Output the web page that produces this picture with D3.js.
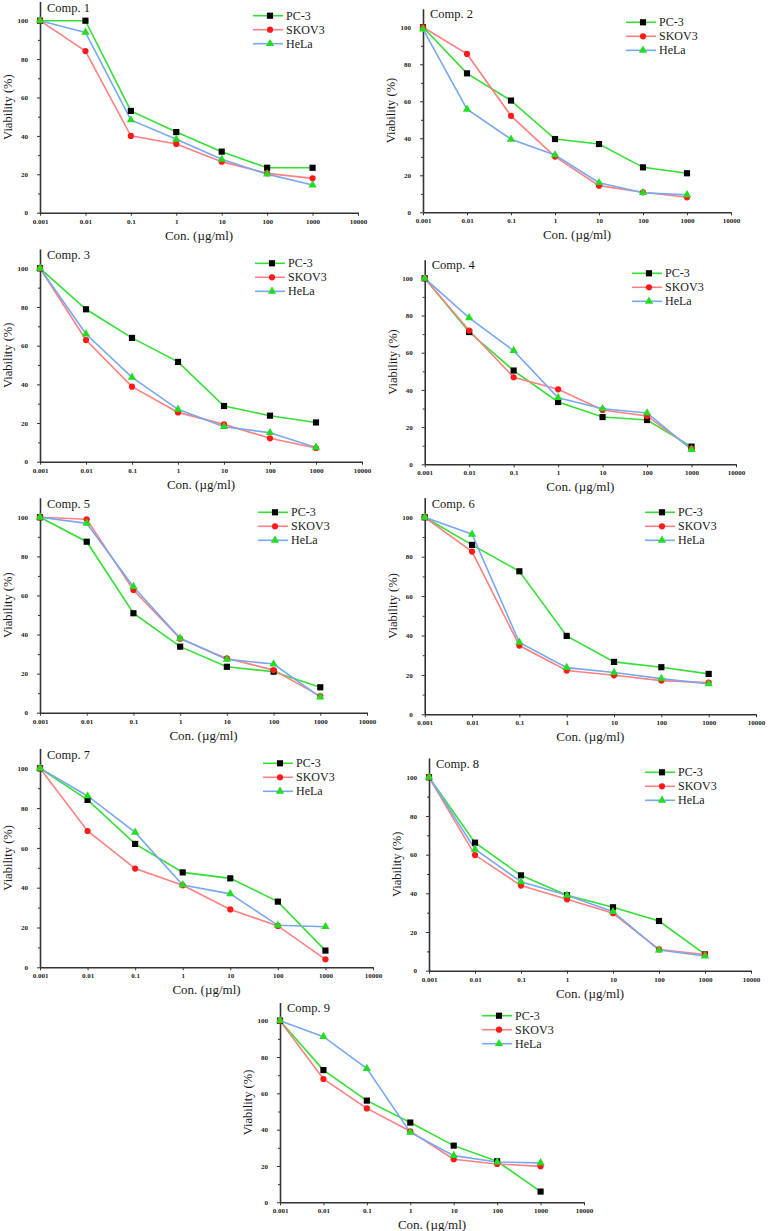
<!DOCTYPE html>
<html>
<head>
<meta charset="utf-8">
<script src="https://cdn.jsdelivr.net/npm/d3@7/dist/d3.min.js"></script>
<style>
html,body{margin:0;padding:0;background:#fff;}
svg{display:block;}
</style>
</head>
<body>
<svg id="chart" width="768" height="1231"></svg>
<script>
// ---------- data ----------
const concentrations = [0.001, 0.01, 0.1, 1, 10, 100, 1000];
const xTickValues = [0.001, 0.01, 0.1, 1, 10, 100, 1000, 10000];
const xTickLabels = ["0.001", "0.01", "0.1", "1", "10", "100", "1000", "10000"];
const yTickValues = [0, 20, 40, 60, 80, 100];
const yMinorTicks = [10, 30, 50, 70, 90];
const seriesNames = ["PC-3", "SKOV3", "HeLa"];
const compoundNames = ["Comp. 1","Comp. 2","Comp. 3","Comp. 4","Comp. 5","Comp. 6","Comp. 7","Comp. 8","Comp. 9"];

const pc3 = [
  [100, 100, 53, 42, 31.8, 23.4, 23.4],
  [100, 75.1, 60.4, 39.6, 36.9, 24.3, 21.1],
  [100, 78.8, 64, 51.6, 28.8, 23.8, 20.3],
  [100, 71.1, 50.4, 33.5, 25.4, 23.8, 9.5],
  [100, 87.5, 50.9, 33.8, 23.5, 21, 13],
  [100, 86, 72.6, 39.8, 26.6, 23.9, 20.5],
  [100, 84.1, 62, 47.7, 44.7, 33, 8.4],
  [100, 66.2, 49.3, 39, 32.8, 25.7, 8.4],
  [100, 72.8, 56, 43.9, 31.2, 22.6, 5.9]
];
const skov3 = [
  [100, 84.2, 40, 35.8, 26.6, 20.5, 17.9],
  [100, 85.6, 52.1, 30.1, 14.4, 10.8, 8.1],
  [100, 62.9, 38.8, 25.5, 19.3, 12.1, 7.1],
  [100, 71.9, 46.8, 40.3, 29.2, 26, 8.4],
  [100, 99, 62.8, 37.9, 27.8, 21.8, 8.5],
  [100, 82.6, 34.9, 22.2, 19.8, 17.1, 16.1],
  [100, 68.5, 49.6, 41.2, 29.1, 20.8, 4],
  [100, 59.8, 44, 36.9, 29.7, 11, 8.4],
  [100, 67.9, 51.7, 39.1, 23.7, 21.1, 19.8]
];
const hela = [
  [100, 93.9, 48.3, 38.2, 27.8, 20.1, 14.4],
  [99, 55.7, 39.5, 31, 16, 10.6, 9.4],
  [100, 66, 43.6, 27.1, 18.1, 15, 7.4],
  [100, 78.7, 61.1, 35.8, 29.9, 27.6, 7.9],
  [100, 96.9, 64.5, 38.1, 27.3, 24.9, 8],
  [100, 91.4, 36.5, 23.7, 21.2, 18.1, 15.4],
  [100, 86.1, 67.8, 41.4, 36.9, 21.1, 20.4],
  [100, 62.8, 46, 39, 30.5, 10.7, 7.6],
  [100, 91.2, 73.6, 38.5, 25.7, 22.2, 21.7]
];

// ---------- layout (pixels) ----------
// [axisX, xEnd, y0, y100, legendMarkerX]
const panelLayout = [
  [40, 358, 212.7, 20.7, 270],
  [423, 731, 212.3, 27.3, 643],
  [40, 362, 461.7, 268.3, 272],
  [424.7, 736, 464.3, 278.3, 649],
  [40, 367, 712.7, 517.3, 275],
  [424.7, 756, 714.3, 517.3, 662],
  [40, 373, 967.3, 768.3, 280],
  [429, 751, 970.7, 777.3, 662],
  [280, 584, 1202.3, 1020.7, 499]
];

const FONT = "'Liberation Serif', 'Times New Roman', Times, 'DejaVu Serif', serif";

const styles = [
  {line: "#33e033", marker: "square", fill: "#000000"},
  {line: "#ff8080", marker: "circle", fill: "#ff1a1a"},
  {line: "#78a8f2", marker: "triangle", fill: "#22dd22"}
];

const svg = d3.select("#chart");

function symbolPath(kind) {
  if (kind === "square") return d3.symbol().type(d3.symbolSquare).size(38)();
  if (kind === "circle") return d3.symbol().type(d3.symbolCircle).size(30)();
  return d3.symbol().type(d3.symbolTriangle).size(30)();
}

panelLayout.forEach((L, i) => {
  const [ax, xe, y0, y100, lmx] = L;
  const pxPerUnit = (y0 - y100) / 100;
  const x = d3.scaleLog().domain([0.001, 10000]).range([ax, xe]);
  const y = d3.scaleLinear().domain([0, 110]).range([y0, y0 - 110 * pxPerUnit]);
  const g = svg.append("g");

  // minor y ticks
  const yMinor = g.append("g").attr("transform", `translate(${ax},0)`)
    .call(d3.axisLeft(y).tickValues(yMinorTicks).tickSize(2).tickFormat(""));
  yMinor.select(".domain").remove();
  yMinor.selectAll("line").attr("stroke", "#333").attr("stroke-width", 1);

  // y axis
  const yAx = g.append("g").attr("transform", `translate(${ax},0)`)
    .call(d3.axisLeft(y).tickValues(yTickValues).tickSize(3).tickSizeOuter(0).tickPadding(9));
  yAx.attr("font-family", FONT);
  yAx.select(".domain").attr("stroke", "#333").attr("stroke-width", 1.6);
  yAx.selectAll("line").attr("stroke", "#333").attr("stroke-width", 1);
  yAx.selectAll("text").attr("font-size", 7).attr("font-weight", "bold").attr("fill", "#222")
    .attr("font-family", FONT);

  // x axis
  const xAx = g.append("g").attr("transform", `translate(0,${y0})`)
    .call(d3.axisBottom(x).tickValues(xTickValues).tickSize(3).tickSizeOuter(0).tickPadding(3)
      .tickFormat((d, k) => xTickLabels[k]));
  xAx.attr("font-family", FONT);
  xAx.select(".domain").attr("stroke", "#333").attr("stroke-width", 1.6);
  xAx.selectAll("line").attr("stroke", "#333").attr("stroke-width", 1);
  xAx.selectAll("text").attr("font-size", 7).attr("font-weight", "bold").attr("fill", "#222")
    .attr("font-family", FONT);

  // axis titles
  g.append("text")
    .attr("x", (ax + xe) / 2).attr("y", y0 + 27)
    .attr("text-anchor", "middle").attr("font-size", 13).attr("fill", "#1a1a1a")
    .attr("font-family", FONT)
    .text("Con. (\u00b5g/ml)");
  g.append("text")
    .attr("transform", `translate(${ax - 28},${y(55)}) rotate(-90)`)
    .attr("text-anchor", "middle").attr("font-size", 12.5).attr("fill", "#1a1a1a")
    .attr("font-family", FONT)
    .text("Viability (%)");

  // compound label
  g.append("text")
    .attr("x", ax + 7).attr("y", y100 - 9)
    .attr("font-size", 12.5).attr("fill", "#1a1a1a")
    .attr("font-family", FONT)
    .text(compoundNames[i]);

  // series
  const data = [pc3[i], skov3[i], hela[i]];
  const line = d3.line().x((d, k) => x(concentrations[k])).y(d => y(d));
  data.forEach((vals, s) => {
    g.append("path").attr("d", line(vals))
      .attr("fill", "none").attr("stroke", styles[s].line).attr("stroke-width", 1.6);
  });
  data.forEach((vals, s) => {
    g.selectAll(null).data(vals).enter().append("path")
      .attr("d", symbolPath(styles[s].marker))
      .attr("transform", (d, k) => `translate(${x(concentrations[k])},${y(d)})`)
      .attr("fill", styles[s].fill);
  });

  // legend
  seriesNames.forEach((name, s) => {
    const ly = y100 - 5 + s * 14;
    g.append("line").attr("x1", lmx - 17).attr("x2", lmx + 13).attr("y1", ly).attr("y2", ly)
      .attr("stroke", styles[s].line).attr("stroke-width", 1.6);
    g.append("path").attr("d", symbolPath(styles[s].marker))
      .attr("transform", `translate(${lmx},${ly})`).attr("fill", styles[s].fill);
    g.append("text").attr("x", lmx + 16).attr("y", ly + 4)
      .attr("font-size", 12).attr("fill", "#1a1a1a")
      .attr("font-family", FONT).text(name);
  });
});
</script>
</body>
</html>
